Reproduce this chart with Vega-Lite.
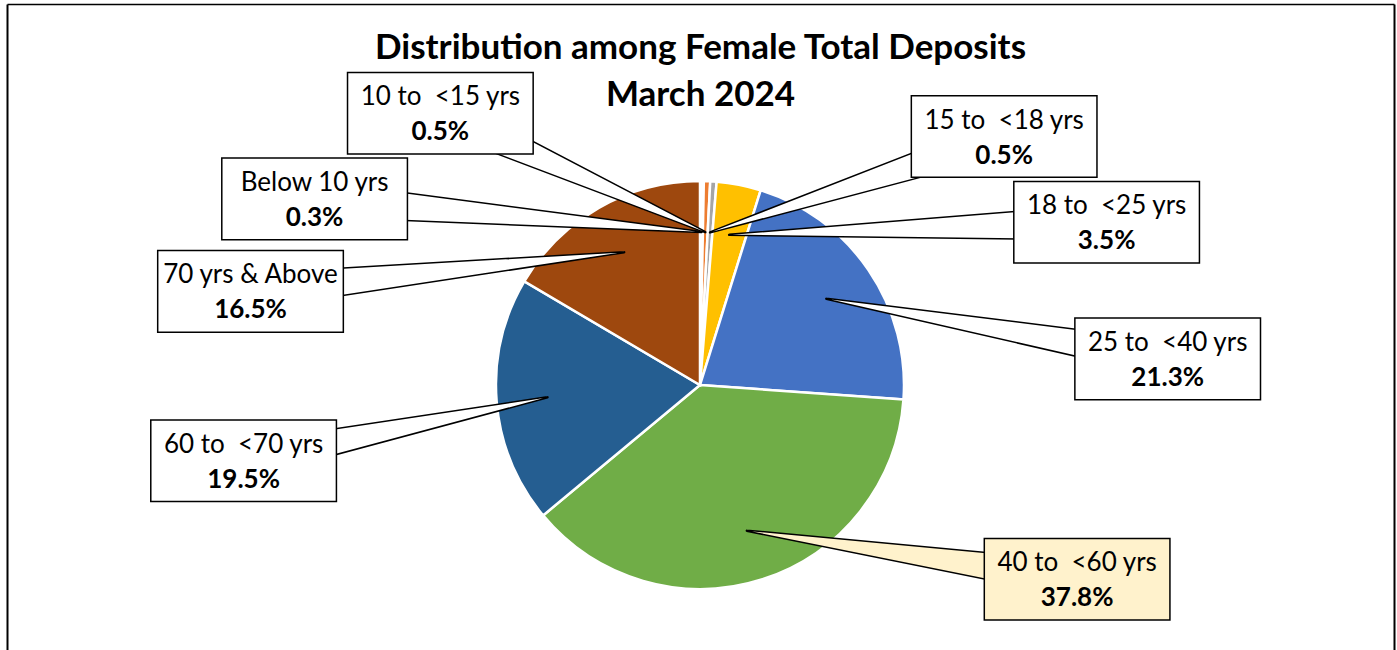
{
  "$schema": "https://vega.github.io/schema/vega-lite/v6.json",
  "autosize": {"type": "none"},
  "padding": {"left": 7, "top": 4, "right": 3, "bottom": 0},
  "width": 1387,
  "height": 646,
  "background": "white",
  "config": {"view": {"stroke": null}},
  "title": {
    "text": ["Distribution among Female Total Deposits", "March 2024"],
    "font": "Lato", "fontSize": 35, "fontWeight": "bold", "color": "black",
    "anchor": "middle", "frame": "group", "baseline": "top", "offset": 0, "dy": 109, "lineHeight": 47
  },
  "data": {"values": [
    {"age": "Below 10 yrs", "share": 0.3, "order": 1},
    {"age": "10 to  <15 yrs", "share": 0.5, "order": 2},
    {"age": "15 to  <18 yrs", "share": 0.5, "order": 3},
    {"age": "18 to  <25 yrs", "share": 3.5, "order": 4},
    {"age": "25 to  <40 yrs", "share": 21.3, "order": 5},
    {"age": "40 to  <60 yrs", "share": 37.8, "order": 6},
    {"age": "60 to  <70 yrs", "share": 19.5, "order": 7},
    {"age": "70 yrs & Above", "share": 16.5, "order": 8}
  ]},
  "transform": [
    {"joinaggregate": [{"op": "sum", "field": "share", "as": "total"}]},
    {"stack": "share", "groupby": [], "sort": [{"field": "order", "order": "ascending"}], "as": ["s0", "s1"]},
    {"calculate": "(datum.s0 + datum.s1) / 2 / datum.total * 360", "as": "mid"},
    {"calculate": "(datum.mid + 160) % 360", "as": "u"},
    {"window": [{"op": "row_number", "as": "rk"}], "sort": [{"field": "u", "order": "ascending"}]},
    {"calculate": "datum.u - 28 * datum.rk", "as": "t"},
    {"window": [{"op": "max", "field": "t", "as": "fmax"}], "sort": [{"field": "u", "order": "ascending"}], "frame": [null, 0]},
    {"window": [{"op": "min", "field": "t", "as": "bmin"}], "sort": [{"field": "u", "order": "ascending"}], "frame": [0, null]},
    {"calculate": "((datum.fmax + datum.bmin) / 2 + 28 * datum.rk + 200) % 360", "as": "L"},
    {"calculate": "datum.L < 180 ? 1 : -1", "as": "side"},
    {"calculate": "cos(datum.L * PI / 180) * (cos(datum.L * PI / 180) > 0 ? 1.25 : 1)", "as": "y0"},
    {"window": [{"op": "row_number", "as": "rk2"}], "groupby": ["side"], "sort": [{"field": "y0", "order": "ascending"}]},
    {"calculate": "datum.y0 - 0.42 * datum.rk2", "as": "t2"},
    {"window": [{"op": "max", "field": "t2", "as": "f2"}], "groupby": ["side"], "sort": [{"field": "y0", "order": "ascending"}], "frame": [null, 0]},
    {"window": [{"op": "min", "field": "t2", "as": "b2"}], "groupby": ["side"], "sort": [{"field": "y0", "order": "ascending"}], "frame": [0, null]},
    {"calculate": "(datum.f2 + datum.b2) / 2 + 0.42 * datum.rk2", "as": "ly"},
    {"calculate": "datum.side * 2.3 * sqrt(max(0.2, 1 - pow(datum.ly / 1.6, 2)))", "as": "lx"},
    {"calculate": "0.75 * sin(datum.mid * PI / 180)", "as": "ax"},
    {"calculate": "0.75 * cos(datum.mid * PI / 180)", "as": "ay"},
    {"calculate": "datum.lx - 0.455", "as": "bx1"},
    {"calculate": "datum.lx + 0.455", "as": "bx2"},
    {"calculate": "datum.ly - 0.2", "as": "by1"},
    {"calculate": "datum.ly + 0.2", "as": "by2"},
    {"calculate": "format(datum.share, '.1f') + '%'", "as": "pct"},
    {"calculate": "replace(datum.age, '  ', ' \u00a0')", "as": "shown"}
  ],
  "resolve": {"axis": {"x": "independent", "y": "independent"}},
  "layer": [
    {
      "mark": {"type": "arc", "outerRadius": 204, "stroke": "white", "strokeWidth": 2.5},
      "encoding": {
        "x": {"datum": 0, "type": "quantitative", "scale": {"domain": [-3.397, 3.402], "nice": false, "zero": false},
          "axis": {"orient": "top", "domain": true, "domainColor": "black", "domainWidth": 1.5, "ticks": false, "labels": false, "grid": false, "title": null}},
        "y": {"datum": 0, "type": "quantitative", "scale": {"domain": [-1.299, 1.868], "nice": false, "zero": false},
          "axis": {"orient": "left", "domain": true, "domainColor": "black", "domainWidth": 2, "ticks": false, "labels": false, "grid": false, "title": null}},
        "theta": {"field": "share", "type": "quantitative", "stack": true},
        "order": {"field": "order", "type": "quantitative"},
        "color": {"field": "age", "type": "nominal", "legend": null,
          "scale": {"domain": ["Below 10 yrs", "10 to  <15 yrs", "15 to  <18 yrs", "18 to  <25 yrs", "25 to  <40 yrs", "40 to  <60 yrs", "60 to  <70 yrs", "70 yrs & Above"],
                    "range": ["#FFFFFF", "#ED7D31", "#A5A5A5", "#FFC000", "#4472C4", "#70AD47", "#255E91", "#9E480E"]}}
      }
    },
    {
      "transform": [
        {"fold": ["lx", "ax"], "as": ["end", "px"]},
        {"calculate": "datum.end === 'lx' ? datum.ly : datum.ay", "as": "py"},
        {"calculate": "datum.end === 'lx' ? 36 : 0", "as": "w"},
        {"calculate": "datum.end === 'lx' ? 0 : 1", "as": "k"}
      ],
      "mark": {"type": "trail", "stroke": "black", "strokeWidth": 1.5},
      "encoding": {
        "x": {"field": "px", "type": "quantitative", "axis": null},
        "y": {"field": "py", "type": "quantitative", "axis": null},
        "size": {"field": "w", "type": "quantitative", "scale": null, "legend": null},
        "detail": {"field": "age"},
        "order": {"field": "k", "type": "quantitative"},
        "fill": {"condition": {"test": "datum.age === '40 to  <60 yrs'", "value": "#FFF2CC"}, "value": "white"},
        "color": {"value": "white"}
      }
    },
    {
      "mark": {"type": "rect", "stroke": "black", "strokeWidth": 1.5},
      "encoding": {
        "x": {"field": "bx1", "type": "quantitative", "axis": null},
        "x2": {"field": "bx2"},
        "y": {"field": "by1", "type": "quantitative", "axis": null},
        "y2": {"field": "by2"},
        "fill": {"condition": {"test": "datum.age === '40 to  <60 yrs'", "value": "#FFF2CC"}, "value": "white"}
      }
    },
    {
      "mark": {"type": "text", "font": "Lato", "fontSize": 26, "color": "black", "dy": -16, "baseline": "middle", "align": "center"},
      "encoding": {
        "x": {"field": "lx", "type": "quantitative", "axis": null},
        "y": {"field": "ly", "type": "quantitative",
          "axis": {"orient": "right", "domain": true, "domainColor": "black", "domainWidth": 2, "ticks": false, "labels": false, "grid": false, "title": null}},
        "text": {"field": "shown"}
      }
    },
    {
      "mark": {"type": "text", "font": "Lato", "fontSize": 26, "fontWeight": "bold", "color": "black", "dy": 19, "baseline": "middle", "align": "center"},
      "encoding": {
        "x": {"field": "lx", "type": "quantitative", "axis": null},
        "y": {"field": "ly", "type": "quantitative", "axis": null},
        "text": {"field": "pct"}
      }
    }
  ]
}
